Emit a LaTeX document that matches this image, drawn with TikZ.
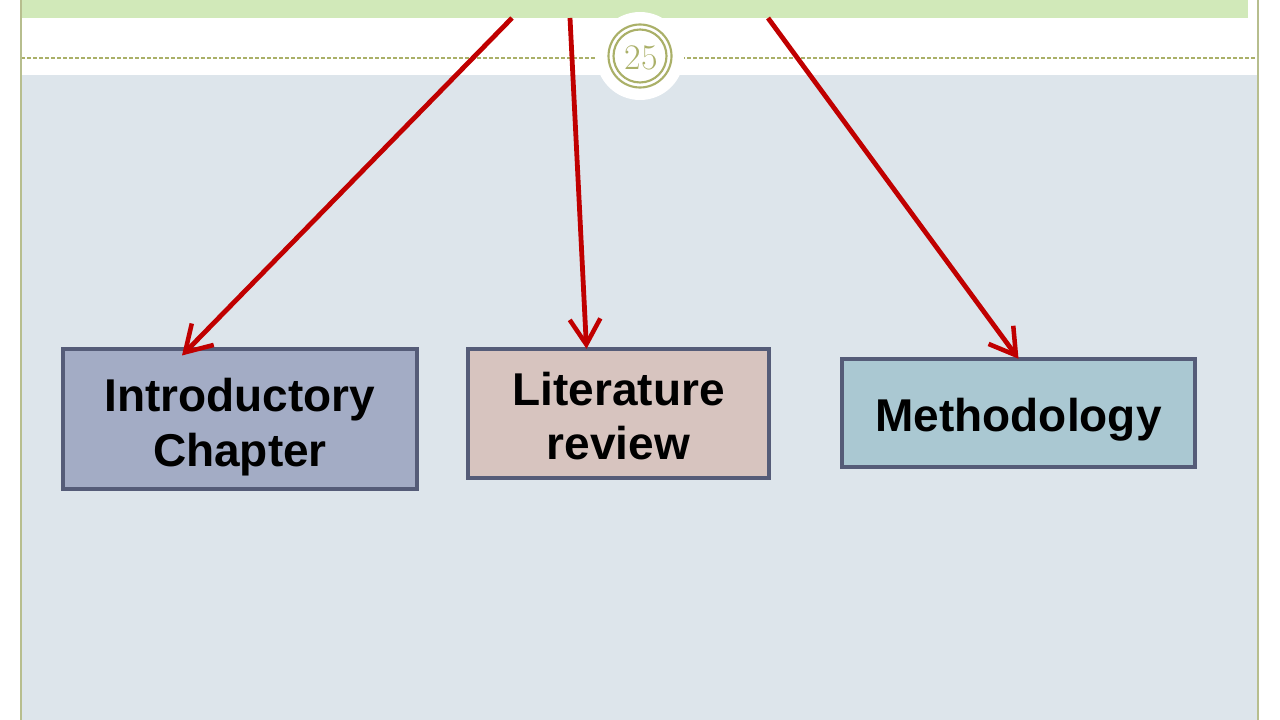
\documentclass[tikz,border=0pt]{standalone}
\usepackage{fontspec}
\newfontfamily\arialf{Liberation Sans}
\usetikzlibrary{arrows.meta}
\definecolor{bandgreen}{HTML}{D1E9B9}
\definecolor{areagray}{HTML}{DDE5EB}
\definecolor{olive}{HTML}{AAB068}
\definecolor{edgeolive}{HTML}{B7BE8E}
\definecolor{boxedge}{HTML}{555C78}
\definecolor{introfill}{HTML}{A3ACC5}
\definecolor{litfill}{HTML}{D7C4BF}
\definecolor{methfill}{HTML}{AAC8D2}
\definecolor{arrowred}{HTML}{C00000}
\tikzset{
  chapbox/.style={draw=boxedge, line width=2.3pt, inner sep=0pt},
  chaptext/.style={align=center, inner sep=0pt,
    font=\arialf\bfseries\fontsize{34.5}{41}\selectfont, text=black},
  redarrow/.style={draw=arrowred, line width=3.6pt,
    -{Straight Barb[length=19pt, width=23pt, line width=3.4pt]}},
}
\begin{document}
\begin{tikzpicture}[x=0.75pt, y=-0.75pt]
\useasboundingbox (0,0) rectangle (1280,720);
\fill[white] (0,0) rectangle (1280,720);
% header band and content area
\fill[bandgreen] (21,0) rectangle (1248,18);
\fill[areagray] (22,75) rectangle (1257,720);
\draw[olive, line width=0.8pt, dash pattern=on 3pt off 1.5pt] (21,58) -- (1258,58);
\draw[edgeolive, line width=1.3pt] (21,0) -- (21,720);
\draw[edgeolive, line width=1.3pt] (1258,0) -- (1258,720);
% page number badge
\fill[white] (640,56) circle (44);
\draw[olive, line width=1.6pt] (640,56) circle (31.5);
\draw[olive, line width=1.6pt] (640,56) circle (26.5);
\node[text=olive, font=\fontsize{27}{27}\selectfont, inner sep=0pt] (pnum) at (641,58) {25};
% boxes
\node[chapbox, fill=introfill, minimum width=265.5pt, minimum height=105pt] (intro) at (240,419) {};
\node[chapbox, fill=litfill, minimum width=225.75pt, minimum height=96.75pt] (lit) at (618.5,413.5) {};
\node[chapbox, fill=methfill, minimum width=264.75pt, minimum height=81pt] (meth) at (1018.5,413) {};
\node[chaptext] (introtext) at ([yshift=-6pt]intro.center) {Introductory\\Chapter};
\node[chaptext] (littext) at ([yshift=-2pt]lit.center) {Literature\\review};
\node[chaptext] (methtext) at ([yshift=-5pt]meth.center) {Methodology};
% arrow sources
\coordinate (s1) at (512,18);
\coordinate (s2) at (570,18);
\coordinate (s3) at (768,18);
\draw[redarrow] (s1) -- ([xshift=-43.5pt, yshift=-6pt]intro.north);
\draw[redarrow] (s2) -- ([xshift=-24pt, yshift=-1pt]lit.north);
\draw[redarrow] (s3) -- ([xshift=0pt, yshift=-1pt]meth.north);
\end{tikzpicture}
\end{document}
